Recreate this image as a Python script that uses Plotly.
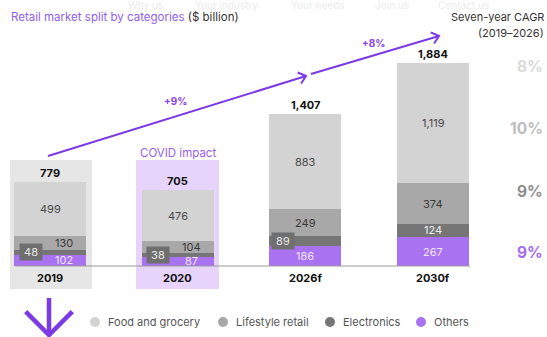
import math
import plotly.graph_objects as go

# ---- data ----
years = ["2019", "2020", "2026f", "2030f"]
others = [102, 87, 186, 267]
electronics = [48, 38, 89, 124]
lifestyle = [130, 104, 249, 374]
food = [499, 476, 883, 1119]
totals = ["779", "705", "1,407", "1,884"]
food_lbl = ["499", "476", "883", "1,119"]
cagr_labels = ["8%", "10%", "9%", "9%"]
growth_labels = ["+9%", "+8%"]
legend_names = ["Food and grocery", "Lifestyle retail", "Electronics", "Others"]
nav_items = ["Why us", "Your industry", "Your needs", "Join us", "Contact us"]

W, H = 547, 337
C_FOOD, C_LIFE, C_ELEC, C_OTH = "#d3d3d3", "#a8a8a8", "#767676", "#a972f0"
PURPLE = "#7b3ae6"
FONT = "Inter"

# pixel mapping helpers (layout only)
X0, DX = 50, 127.7
BASE, K = 266, 0.108
def X(px): return (px - X0) / DX
def Y(py): return (BASE - py) / K

xs = list(range(len(years)))
fig = go.Figure()
for name, vals, col in [("Others", others, C_OTH), ("Electronics", electronics, C_ELEC),
                        ("Lifestyle retail", lifestyle, C_LIFE), ("Food and grocery", food, C_FOOD)]:
    fig.add_trace(go.Bar(x=xs, y=vals, name=name, marker=dict(color=col, line=dict(width=0)),
                         width=0.564, showlegend=False, hoverinfo="skip"))

shapes = []
# background highlight boxes
shapes.append(dict(type="rect", xref="x", yref="y", x0=X(10), x1=X(92), y0=Y(289), y1=Y(160),
                   fillcolor="#e6e6e6", line=dict(width=0), layer="below"))
shapes.append(dict(type="rect", xref="x", yref="y", x0=X(136), x1=X(219), y0=Y(289), y1=Y(160),
                   fillcolor="#e7d4fb", line=dict(width=0), layer="below"))
# baseline
shapes.append(dict(type="line", xref="x", yref="y", x0=X(15), x1=X(470), y0=0, y1=0,
                   line=dict(color="#9a9a9a", width=1)))

def arrow(p0, p1, width=2, head=9, spread=40):
    (ax, ay), (bx, by) = p0, p1
    shapes.append(dict(type="line", xref="x", yref="y", x0=X(ax), y0=Y(ay), x1=X(bx), y1=Y(by),
                       line=dict(color=PURPLE, width=width)))
    ang = math.atan2(by - ay, bx - ax)
    pts = []
    for s in (1, -1):
        a = ang + math.pi + s * math.radians(spread)
        pts.append((bx + head * math.cos(a), by + head * math.sin(a)))
    path = "M {} {} L {} {} L {} {}".format(X(pts[0][0]), Y(pts[0][1]), X(bx), Y(by), X(pts[1][0]), Y(pts[1][1]))
    shapes.append(dict(type="path", xref="x", yref="y", path=path, line=dict(color=PURPLE, width=width)))

arrow((48, 156), (306, 76))
arrow((311, 74), (439, 36))
arrow((49, 298), (49, 335), width=4.5, head=33, spread=45)

ann = []
def txt(x, y, t, size=11, color="#444", bold=False, xanchor="center", bg=None, xref="x", yref="y"):
    d = dict(x=x, y=y, xref=xref, yref=yref, text=("<b>%s</b>" % t) if bold else t, showarrow=False,
             font=dict(family=FONT, size=size, color=color), xanchor=xanchor, yanchor="middle")
    if bg:
        d.update(bgcolor=bg, borderpad=1)
    ann.append(d)

# segment labels
elec_dx = [-19, -20, -22, 0]
for i in xs:
    o, e, l, f = others[i], electronics[i], lifestyle[i], food[i]
    side = 14 if i < 2 else 0
    txt(i + X(X0 + side), o / 2, str(o), size=11, color="#efe6ff")
    if elec_dx[i]:
        txt(i + X(X0 + elec_dx[i]), o + e / 2, " %d " % e, size=11, color="#e6e6e6", bg="#6f6f6f")
    else:
        txt(i, o + e / 2, str(e), size=11, color="#eeeeee")
    txt(i + X(X0 + side), o + e + l / 2, str(l), size=11, color="#3a3a3a")
    txt(i, o + e + l + f / 2, food_lbl[i], size=11, color="#4a4a4a")
    tot = o + e + l + f
    txt(i, tot + 9 / K, totals[i], size=11, color="#111", bold=True)
    txt(i, Y(278), years[i], size=11, color="#111", bold=True)

txt(1, Y(153), "COVID impact", size=11.5, color="#9a5ef0")
txt(X(175), Y(101), growth_labels[0], size=10, color="#8a45ea", bold=True)
txt(X(373), Y(43), growth_labels[1], size=10, color="#8a45ea", bold=True)

# title
ann.append(dict(x=X(9), y=Y(17), xref="x", yref="y", showarrow=False, xanchor="left", yanchor="middle",
                text="<span style='color:#8e5ef0'>Retail market split by categories</span> ($ billion)",
                font=dict(family=FONT, size=11.5, color="#333")))
# faint nav
for t, px in zip(nav_items, [145, 226, 317, 392, 463]):
    txt(X(px), Y(5), t, size=10, color="#ebebeb")

# CAGR column
txt(X(546), Y(17), "Seven-year CAGR", size=11, color="#333", xanchor="right")
txt(X(546), Y(33), "(2019–2026)", size=11, color="#333", xanchor="right")
cagr_y = [66, 128, 191, 252]
cagr_c = ["#d9d9d9", "#bdbdbd", "#8e8e8e", "#a56cf0"]
for t, py, c in zip(cagr_labels, cagr_y, cagr_c):
    ann.append(dict(x=X(545), y=Y(py), xref="x", yref="y", showarrow=False, xanchor="right", yanchor="middle",
                    text="<b>%s</b>" % t, font=dict(family=FONT, size=15.5, color=c)))

# legend (manual)
leg_cx = [95, 223, 330, 421]
leg_cols = [C_FOOD, C_LIFE, C_ELEC, C_OTH]
fig.add_trace(go.Scatter(x=[X(p) for p in leg_cx], y=[Y(322)] * 4, mode="markers",
                         marker=dict(size=10, color=leg_cols), showlegend=False, hoverinfo="skip"))
for name, p in zip(legend_names, leg_cx):
    txt(X(p + 11), Y(322), name, size=11, color="#555", xanchor="left")

fig.update_layout(
    width=W, height=H, margin=dict(l=0, r=0, t=0, b=0),
    paper_bgcolor="white", plot_bgcolor="white", barmode="stack", bargap=0,
    xaxis=dict(range=[X(0), X(W)], visible=False, fixedrange=True),
    yaxis=dict(range=[Y(H), Y(0)], visible=False, fixedrange=True),
    shapes=shapes, annotations=ann, showlegend=False,
)
fig.write_html("out.html", config={"displayModeBar": False})
